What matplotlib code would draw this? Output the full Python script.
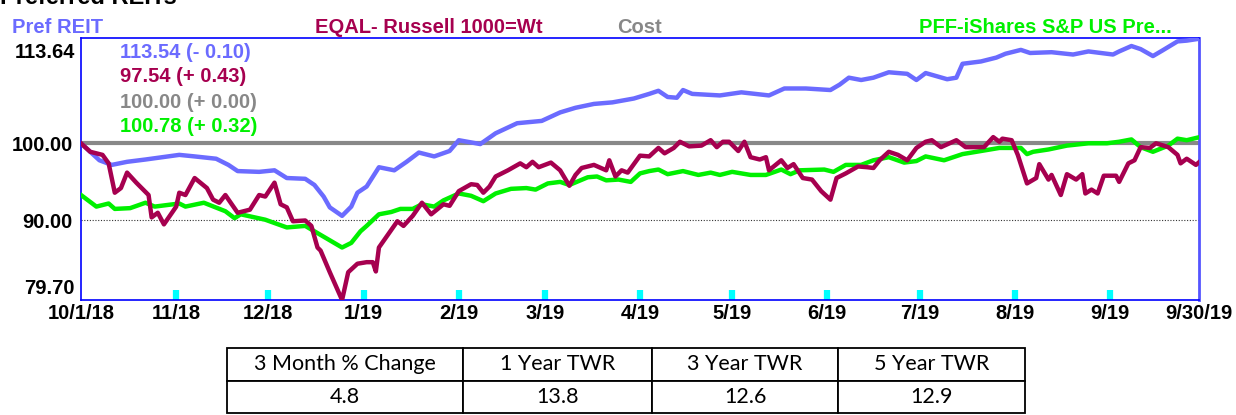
import matplotlib
matplotlib.use("Agg")
import matplotlib.pyplot as plt
import pandas as pd

# ---------------- data ----------------
start_date = "2018-10-01"

pref_days = [0, 6, 10, 15, 21, 32, 37, 44, 48, 51, 58, 63, 67, 73, 76, 79, 81, 85, 88, 90, 93,
             97, 102, 106, 110, 115, 120, 123, 130, 135, 142, 150, 156, 161, 167, 173, 180, 185,
             188, 191, 194, 196, 199, 208, 215, 224, 229, 236, 244, 247, 250, 254, 258, 263, 269,
             272, 275, 282, 285, 287, 293, 298, 301, 306, 309, 316, 323, 328, 336, 338, 342, 345,
             349, 352, 357, 360, 364]
pref_vals = [100.0, 97.8, 97.2, 97.6, 97.9, 98.5, 98.3, 98.0, 97.2, 96.4, 96.3, 96.5, 95.5, 95.4,
             94.6, 93.1, 91.7, 90.6, 91.8, 93.6, 94.4,
             96.9, 96.5, 97.6, 98.8, 98.3, 99.0, 100.4, 99.9, 101.3, 102.6, 102.9, 104.0, 104.6,
             105.1, 105.3, 105.8, 106.4,
             106.8, 106.0, 105.9, 106.9, 106.4, 106.2, 106.6, 106.2, 107.1, 107.1, 106.9, 107.6,
             108.5, 108.2, 108.5, 109.2, 109.0,
             108.2, 109.1, 108.3, 108.5, 110.3, 110.6, 111.1, 111.6, 112.1, 111.7, 111.8, 111.5,
             111.9, 111.5, 111.9, 112.6, 112.2,
             111.3, 112.0, 113.2, 113.3, 113.54]

eqal_days = [0, 3, 7, 9, 11, 13, 15, 18, 22, 23, 25, 27, 31, 32, 34, 37, 41, 43, 45, 47, 51, 55,
             58, 60, 63, 65, 67, 69, 73, 75, 77, 78, 81, 85, 87, 90, 93, 95, 96, 97, 100, 103, 105,
             108, 111, 114, 118, 120, 123, 127, 129, 131, 133, 135, 139, 143, 145, 147, 149, 153,
             156, 159, 161, 163, 167, 171, 172, 174, 176, 178, 182, 185, 188, 190, 193, 195, 198,
             202, 205, 207, 209, 211, 214, 216, 218, 221, 223, 224, 228, 230, 232, 235, 238, 241,
             244, 246, 249, 253, 256, 258, 260, 263, 266, 269, 272, 275, 277, 280, 285, 288, 294,
             297, 299, 300, 303, 305, 308, 311, 312, 315, 316, 319, 321, 324, 326, 327, 329, 331,
             333, 337, 338, 341, 343, 345, 348, 350, 354, 357, 358, 360, 363, 364]
eqal_vals = [100.0, 98.9, 98.5, 97.4, 93.6, 94.2, 96.2, 94.9, 93.3, 90.4, 91.0, 89.5, 91.8, 93.6,
             93.3, 95.5, 94.2, 92.7, 92.3, 93.3, 91.0, 91.4,
             93.3, 93.1, 94.9, 92.1, 91.7, 89.9, 90.0, 89.3, 86.5, 86.1, 83.3, 79.7, 83.3, 84.4,
             84.6, 84.6, 83.4, 86.5, 88.2, 89.9, 89.3,
             90.6, 92.3, 90.8, 92.1, 91.9, 93.8, 94.7, 94.6, 93.6, 94.4, 95.7, 96.5, 97.4, 96.9,
             97.6, 96.9, 97.5,
             96.5, 94.5, 95.9, 96.8, 97.2, 96.5, 97.8, 95.7, 96.5, 96.2, 98.4, 98.3, 99.4, 98.7,
             99.4, 100.2, 99.6,
             99.7, 100.4, 99.5, 100.2, 100.2, 99.0, 100.2, 98.2, 97.9, 98.2, 96.5, 97.8, 96.8,
             97.3, 95.5, 95.3, 93.8,
             92.7, 95.5, 96.1, 97.0, 96.9, 96.8, 97.8, 98.9, 98.5, 97.8, 99.4, 100.2, 100.4, 99.5,
             100.4, 99.5, 99.5,
             100.8, 100.2, 100.6, 100.4, 98.5, 94.8, 95.5, 97.3, 95.3, 95.9, 93.3, 96.0, 95.3,
             96.0, 93.5, 94.0, 93.5,
             95.8, 95.8, 95.0, 97.4, 97.8, 99.5, 99.4, 100.0, 99.5, 98.5, 97.4, 98.0, 97.2, 97.54]

pff_days = [0, 5, 9, 11, 16, 21, 24, 32, 34, 40, 47, 50, 52, 60, 67, 73, 79, 85, 88, 91, 93, 97,
            101, 104, 108, 111, 115, 118, 123, 127, 131, 135, 140, 145, 148, 152, 156, 159, 165,
            168, 171, 175, 179, 182, 185, 188, 191, 196, 201, 205, 208, 212, 218, 223, 228, 231,
            234, 242, 245, 249, 254, 258, 263, 268, 272, 275, 281, 287, 293, 299, 306, 308, 310,
            315, 321, 328, 334, 338, 342, 345, 349, 354, 357, 360, 364]
pff_vals = [93.3, 91.8, 92.2, 91.5, 91.6, 92.3, 91.8, 92.2, 91.8, 92.3, 91.2, 90.3, 90.8, 90.1,
            89.1, 89.3, 87.9, 86.5, 87.1, 88.6, 89.3, 90.8,
            91.1, 91.5, 91.5, 92.1, 91.8, 92.6, 93.5, 93.2, 92.5, 93.5, 94.1, 94.2, 94.0, 94.8,
            95.0, 94.6, 95.6,
            95.7, 95.2, 95.3, 95.0, 96.1, 96.4, 96.6, 96.0, 96.4, 95.9, 96.2, 95.9, 96.3, 95.9,
            95.9, 96.6, 96.0,
            96.5, 96.6, 96.3, 97.2, 97.2, 97.8, 98.2, 97.5, 97.7, 98.3, 97.8, 98.6, 99.0, 99.4,
            99.4, 98.6, 98.9,
            99.2, 99.7, 100.0, 100.0, 100.2, 100.5, 99.5, 98.9, 99.7, 100.6, 100.4, 100.78]

cost_days = [0, 364]
cost_vals = [100.00, 100.00]

series_names = ["Pref REIT", "EQAL- Russell 1000=Wt", "Cost", "PFF-iShares S&P US Pre..."]
last_labels = ["113.54 (- 0.10)", "97.54 (+ 0.43)", "100.00 (+ 0.00)", "100.78 (+ 0.32)"]

y_ticks = [79.70, 90.00, 100.00, 113.64]
x_tick_dates = ["2018-10-01", "2018-11-01", "2018-12-01", "2019-01-01", "2019-02-01",
                "2019-03-01", "2019-04-01", "2019-05-01", "2019-06-01", "2019-07-01",
                "2019-08-01", "2019-09-01", "2019-09-30"]
x_tick_labels = ["10/1/18", "11/18", "12/18", "1/19", "2/19", "3/19", "4/19", "5/19", "6/19",
                 "7/19", "8/19", "9/19", "9/30/19"]
month_marks = x_tick_dates[1:-1]

title = "Preferred REITs"
table_header = ["3 Month % Change", "1 Year TWR", "3 Year TWR", "5 Year TWR"]
table_values = ["4.8", "13.8", "12.6", "12.9"]

# ---------------- style ----------------
c_blue = "#6B6BFF"
c_maroon = "#A6004F"
c_gray = "#888888"
c_green = "#00F000"
colors = [c_blue, c_maroon, c_gray, c_green]

plt.rcParams["font.family"] = ["Liberation Sans", "DejaVu Sans"]

W, H = 1236, 415
fig = plt.figure(figsize=(W / 100, H / 100), dpi=100)

left, right, top, bottom = 81, 1199, 38, 300
ax = fig.add_axes([left / W, 1 - bottom / H, (right - left) / W, (bottom - top) / H])

base = pd.Timestamp(start_date)
def to_dates(days):
    return [base + pd.Timedelta(days=d) for d in days]

ax.plot(to_dates(cost_days), cost_vals, color=c_gray, lw=3.0, solid_capstyle="butt", zorder=2)
ax.axhline(90.0, color="#333333", lw=0.8, ls=(0, (1, 1.5)), zorder=1)
ax.plot(to_dates(pref_days), pref_vals, color=c_blue, lw=3.2, zorder=3, solid_joinstyle="round")
ax.plot(to_dates(eqal_days), eqal_vals, color=c_maroon, lw=3.2, zorder=4, solid_joinstyle="round")
ax.plot(to_dates(pff_days), pff_vals, color=c_green, lw=3.2, zorder=3, solid_joinstyle="round")

ax.set_xlim(pd.Timestamp(x_tick_dates[0]), pd.Timestamp(x_tick_dates[-1]))
ax.set_ylim(y_ticks[0], y_ticks[-1])

# y ticks: inner ones as tick labels, extremes as annotations clamped inside
ax.set_yticks(y_ticks)
ax.set_yticklabels(["", f"{y_ticks[1]:.2f}", f"{y_ticks[2]:.2f}", ""],
                   fontsize=14.5, fontweight="bold")
ax.tick_params(axis="y", length=0, pad=6)
ax.annotate(f"{y_ticks[-1]:.2f}", xy=(0, y_ticks[-1]), xycoords=("axes fraction", "data"),
            xytext=(-6, -14), textcoords="offset pixels", ha="right", va="center",
            fontsize=14.5, fontweight="bold")
ax.annotate(f"{y_ticks[0]:.2f}", xy=(0, y_ticks[0]), xycoords=("axes fraction", "data"),
            xytext=(-6, 12), textcoords="offset pixels", ha="right", va="center",
            fontsize=14.5, fontweight="bold")

# x ticks
ax.xaxis.remove_overlapping_locs = False
ax.set_xticks([pd.Timestamp(d) for d in x_tick_dates])
ax.set_xticklabels(x_tick_labels, fontsize=14.5, fontweight="bold")
ax.tick_params(axis="x", which="major", length=0, pad=3)
ax.set_xticks([pd.Timestamp(d) for d in month_marks], minor=True)
ax.tick_params(axis="x", which="minor", direction="in", length=7, width=4.5, color="#00FFFF")

for s in ax.spines.values():
    s.set_color("#0000FF")
    s.set_linewidth(1.2)
ax.spines["right"].set_color("#5555FF")
ax.spines["right"].set_linewidth(2)

# header labels
header_x = [12, 315, 617, 919]
for name, col, hx in zip(series_names, colors, header_x):
    fig.text(hx / W, 1 - 33 / H, name, color=col, fontsize=14.5, fontweight="bold",
             ha="left", va="baseline")

# last value labels
for i, (lab, col) in enumerate(zip(last_labels, colors)):
    fig.text(120 / W, 1 - (52 + 25 * i) / H, lab, color=col, fontsize=14.5, fontweight="bold",
             ha="left", va="center")

# title (partially cut off at top, as in the source)
fig.text(0, 1 - 4 / H, title, fontsize=17, fontweight="bold", ha="left", va="baseline",
         color="black")

# table
tl, tr, tt, tb = 227, 1025, 348, 413
tab = fig.add_axes([tl / W, 1 - tb / H, (tr - tl) / W, (tb - tt) / H])
tab.axis("off")
col_w = [236, 189, 186, 187]
tot = sum(col_w)
table = tab.table(cellText=[table_header, table_values], cellLoc="center",
                  colWidths=[w / tot for w in col_w], bbox=[0, 0, 1, 1])
table.auto_set_font_size(False)
for (r, c), cell in table.get_celld().items():
    cell.set_edgecolor("black")
    cell.set_linewidth(1.3)
    cell.get_text().set_fontsize(15.5)
    cell.get_text().set_fontfamily(["Lato", "DejaVu Sans"])

fig.savefig("out.png", dpi=100)
